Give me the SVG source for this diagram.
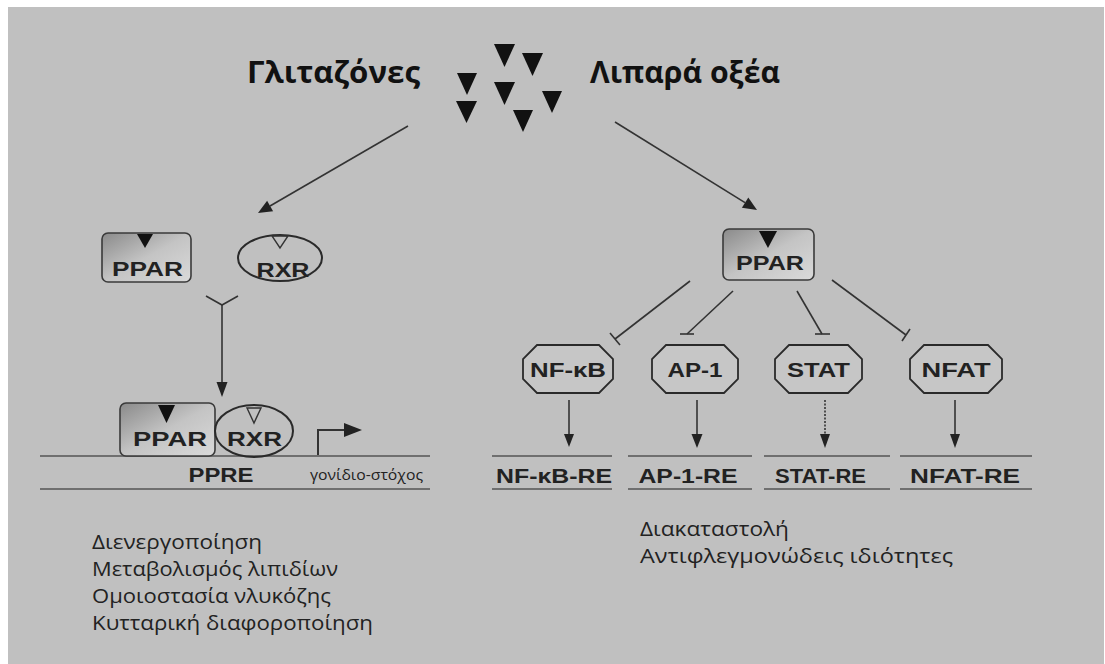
<svg xmlns="http://www.w3.org/2000/svg" width="1105" height="664" viewBox="0 0 1105 664">
<defs>
<linearGradient id="boxg" x1="0" y1="0" x2="1" y2="1">
<stop offset="0" stop-color="#8a8a8a"/>
<stop offset="0.5" stop-color="#c4c4c4"/>
<stop offset="1" stop-color="#dadada"/>
</linearGradient>
</defs>
<style>
.bg{fill:#c0c0c0}
.title{font-family:"Open Sans","Noto Sans","DejaVu Sans",sans-serif;font-weight:bold;font-size:30px;fill:#111}
.lbl{font-family:"Liberation Sans",Arial,sans-serif;font-weight:bold;font-size:20px;fill:#222;text-anchor:middle}
.small{font-family:"Open Sans","Noto Sans",sans-serif;font-size:15px;fill:#222}
.body{font-family:"Open Sans","Noto Sans",sans-serif;font-size:19.5px;fill:#222}
.box{fill:url(#boxg);stroke:#3a3a3a;stroke-width:1.6}
.ell{fill:none;stroke:#2a2a2a;stroke-width:2}
.oct{fill:#c6c6c6;stroke:#2a2a2a;stroke-width:1.8}
.ln{stroke:#333;stroke-width:1.6;fill:none}
.dna{stroke:#555;stroke-width:1.6;fill:none}
.tri{fill:#111}
.htri{fill:none;stroke:#333;stroke-width:1.4}
.head{fill:#222}
</style>
<rect x="0" y="0" width="1105" height="664" fill="#ffffff"/>
<rect class="bg" x="8" y="7" width="1096" height="657"/>

<g id="ligands">
<text class="title" x="247" y="83" textLength="173" lengthAdjust="spacingAndGlyphs">Γλιταζόνες</text>
<text class="title" x="590" y="83" textLength="190" lengthAdjust="spacingAndGlyphs">Λιπαρά οξέα</text>
<polygon class="tri" points="494,44 515,44 504.5,67"/>
<polygon class="tri" points="522,53 543,53 532.5,76"/>
<polygon class="tri" points="457,73 477,73 467,95"/>
<polygon class="tri" points="494,82 515,82 504.5,105"/>
<polygon class="tri" points="542,91 562,91 552,113"/>
<polygon class="tri" points="456,101 477,101 466.5,123"/>
<polygon class="tri" points="513,110 533,110 523,132"/>
</g>

<g id="ppar-left">
<rect class="box" x="102" y="233" width="89" height="49" rx="6"/>
<polygon class="tri" points="137,234 153,234 145,248"/>
<text class="lbl" x="147.5" y="276" textLength="71" lengthAdjust="spacingAndGlyphs">PPAR</text>
</g>
<g id="rxr-left">
<ellipse class="ell" cx="280" cy="258" rx="42" ry="23"/>
<polygon class="htri" points="272,236 288,236 280,248"/>
<text class="lbl" x="283" y="277" textLength="53" lengthAdjust="spacingAndGlyphs">RXR</text>
</g>

<g id="dna-left">
<line class="dna" x1="40" y1="456" x2="430" y2="456"/>
<line class="dna" x1="40" y1="489" x2="430" y2="489"/>
<text class="lbl" x="221" y="482" textLength="65" lengthAdjust="spacingAndGlyphs">PPRE</text>
<text class="small" x="310" y="480" textLength="113" lengthAdjust="spacingAndGlyphs">γονίδιο-στόχος</text>
</g>

<g id="complex">
<rect class="box" x="120" y="403" width="95" height="53" rx="6"/>
<polygon class="tri" points="158,405 175,405 166.5,423"/>
<text class="lbl" x="170" y="446" textLength="74" lengthAdjust="spacingAndGlyphs">PPAR</text>
<ellipse class="ell" cx="254" cy="431" rx="39" ry="26"/>
<polygon class="htri" points="247,408 261,408 254,423"/>
<text class="lbl" x="254.5" y="446" textLength="55" lengthAdjust="spacingAndGlyphs">RXR</text>
</g>

<g id="ppar-right">
<rect class="box" x="723" y="229" width="91" height="51" rx="6"/>
<polygon class="tri" points="759,231 777,231 768,248"/>
<text class="lbl" x="770" y="270" textLength="68" lengthAdjust="spacingAndGlyphs">PPAR</text>
</g>

<g id="nfkb">
<path class="oct" d="M537,345 H599 L613,359 V379 L599,393 H537 L523,379 V359 Z"/>
<text class="lbl" x="568" y="377" textLength="76" lengthAdjust="spacingAndGlyphs">NF-κB</text>
</g>
<g id="ap1">
<path class="oct" d="M666,345 H724 L738,359 V379 L724,393 H666 L652,379 V359 Z"/>
<text class="lbl" x="695" y="377" textLength="55" lengthAdjust="spacingAndGlyphs">AP-1</text>
</g>
<g id="stat">
<path class="oct" d="M789,345 H848 L862,359 V379 L848,393 H789 L775,379 V359 Z"/>
<text class="lbl" x="818.5" y="377" textLength="63" lengthAdjust="spacingAndGlyphs">STAT</text>
</g>
<g id="nfat">
<path class="oct" d="M924,345 H988 L1002,359 V379 L988,393 H924 L910,379 V359 Z"/>
<text class="lbl" x="956" y="377" textLength="69" lengthAdjust="spacingAndGlyphs">NFAT</text>
</g>

<g id="re-elements">
<line class="dna" x1="492" y1="456" x2="612" y2="456"/>
<line class="dna" x1="628" y1="456" x2="752" y2="456"/>
<line class="dna" x1="764" y1="456" x2="890" y2="456"/>
<line class="dna" x1="900" y1="456" x2="1032" y2="456"/>
<line class="dna" x1="492" y1="489" x2="612" y2="489"/>
<line class="dna" x1="628" y1="489" x2="752" y2="489"/>
<line class="dna" x1="764" y1="489" x2="890" y2="489"/>
<line class="dna" x1="900" y1="489" x2="1032" y2="489"/>
<text class="lbl" x="554" y="483" textLength="116" lengthAdjust="spacingAndGlyphs">NF-κB-RE</text>
<text class="lbl" x="688" y="483" textLength="99" lengthAdjust="spacingAndGlyphs">AP-1-RE</text>
<text class="lbl" x="820.5" y="483" textLength="91" lengthAdjust="spacingAndGlyphs">STAT-RE</text>
<text class="lbl" x="965" y="483" textLength="110" lengthAdjust="spacingAndGlyphs">NFAT-RE</text>
</g>

<g id="connectors">
<!-- ligand arrows -->
<line class="ln" x1="408" y1="126" x2="270" y2="206"/>
<polygon class="head" points="258,213 273.1,211.2 267.1,200.8"/>
<line class="ln" x1="615" y1="122" x2="745" y2="202.6"/>
<polygon class="head" points="757,210 741.9,207.7 748.3,197.5"/>
<!-- dimerization -->
<polyline class="ln" points="206,296 222,305 238,296"/>
<line class="ln" x1="222" y1="305" x2="222" y2="384"/>
<polygon class="head" points="222,397 216.5,382 227.5,382"/>
<!-- transcription start -->
<polyline class="ln" points="318,455 318,430 345,430" style="stroke-width:2"/>
<polygon class="head" points="362,430 344,423 344,437"/>
<!-- inhibition -->
<line class="ln" x1="690" y1="281" x2="615" y2="339"/>
<line class="ln" x1="610" y1="333" x2="620" y2="345"/>
<line class="ln" x1="733" y1="291" x2="687" y2="334"/>
<line class="ln" x1="680" y1="334" x2="694" y2="334"/>
<line class="ln" x1="797" y1="291" x2="822" y2="334"/>
<line class="ln" x1="815" y1="334" x2="830" y2="334"/>
<line class="ln" x1="832" y1="280" x2="906" y2="335"/>
<line class="ln" x1="902" y1="341" x2="910" y2="329"/>
<!-- down arrows -->
<line class="ln" x1="569" y1="400" x2="569" y2="436"/>
<polygon class="head" points="569,447 564,434 574,434"/>
<line class="ln" x1="697" y1="400" x2="697" y2="436"/>
<polygon class="head" points="697,448 691.5,434 702.5,434"/>
<line class="ln" x1="825" y1="400" x2="825" y2="436" style="stroke-dasharray:2 1.5"/>
<polygon class="head" points="825,448 820,434 830,434"/>
<line class="ln" x1="955" y1="400" x2="955" y2="436"/>
<polygon class="head" points="955,448 950,434 960,434"/>
</g>

<g id="notes">
<text class="body" x="92" y="549" textLength="170" lengthAdjust="spacingAndGlyphs">Διενεργοποίηση</text>
<text class="body" x="92" y="576" textLength="246" lengthAdjust="spacingAndGlyphs">Μεταβολισμός λιπιδίων</text>
<text class="body" x="92" y="603" textLength="239" lengthAdjust="spacingAndGlyphs">Ομοιοστασία νλυκόζης</text>
<text class="body" x="92" y="630" textLength="281" lengthAdjust="spacingAndGlyphs">Κυτταρική διαφοροποίηση</text>
<text class="body" x="640" y="536" textLength="149" lengthAdjust="spacingAndGlyphs">Διακαταστολή</text>
<text class="body" x="640" y="563" textLength="313" lengthAdjust="spacingAndGlyphs">Αντιφλεγμονώδεις ιδιότητες</text>
</g>
</svg>
